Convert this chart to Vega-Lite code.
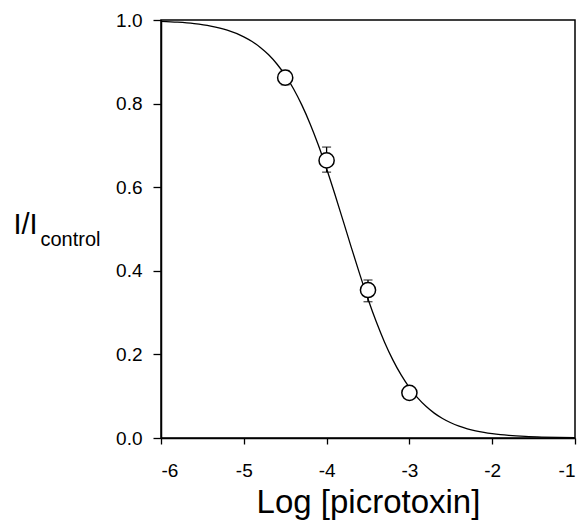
{
  "$schema": "https://vega.github.io/schema/vega-lite/v6.json",
  "width": 414,
  "height": 418,
  "autosize": {"type": "none"},
  "padding": {"left": 161, "top": 20, "right": 12, "bottom": 86},
  "background": "white",
  "config": {
    "font": "Liberation Sans",
    "view": {"stroke": "black", "strokeWidth": 1.5},
    "axis": {"grid": false, "domainColor": "black", "domainWidth": 1.5, "tickColor": "black", "tickWidth": 1.3, "labelColor": "black", "titleColor": "black", "labelFont": "Liberation Sans", "titleFont": "Liberation Sans", "titleFontWeight": "normal"}
  },
  "datasets": {
    "curve": [
      {"x": -6.0, "y": 0.99683}, {"x": -5.8, "y": 0.9947}, {"x": -5.6, "y": 0.99116}, {"x": -5.4, "y": 0.98528},
      {"x": -5.2, "y": 0.97558}, {"x": -5.0, "y": 0.95976}, {"x": -4.9, "y": 0.94854}, {"x": -4.8, "y": 0.9344},
      {"x": -4.7, "y": 0.91672}, {"x": -4.6, "y": 0.89481}, {"x": -4.5, "y": 0.8679}, {"x": -4.4, "y": 0.83545},
      {"x": -4.3, "y": 0.79689}, {"x": -4.2, "y": 0.75199}, {"x": -4.1, "y": 0.70089}, {"x": -4.0, "y": 0.64414},
      {"x": -3.9, "y": 0.58314}, {"x": -3.8, "y": 0.51935}, {"x": -3.7, "y": 0.45498}, {"x": -3.6, "y": 0.39211},
      {"x": -3.5, "y": 0.33264}, {"x": -3.4, "y": 0.27804}, {"x": -3.3, "y": 0.22934}, {"x": -3.2, "y": 0.18695},
      {"x": -3.1, "y": 0.15086}, {"x": -3.0, "y": 0.1207}, {"x": -2.9, "y": 0.0959}, {"x": -2.8, "y": 0.07575},
      {"x": -2.7, "y": 0.05956}, {"x": -2.6, "y": 0.04666}, {"x": -2.5, "y": 0.03644}, {"x": -2.4, "y": 0.02839},
      {"x": -2.3, "y": 0.02208}, {"x": -2.2, "y": 0.01714}, {"x": -2.1, "y": 0.0133}, {"x": -2.0, "y": 0.01031},
      {"x": -1.9, "y": 0.00798}, {"x": -1.8, "y": 0.00618}, {"x": -1.6, "y": 0.0037}, {"x": -1.4, "y": 0.00221},
      {"x": -1.2, "y": 0.00132}, {"x": -1.0, "y": 0.00079}
    ],
    "pts": [
      {"x": -4.5, "y": 0.862, "lo": 0.845, "hi": 0.879},
      {"x": -4.0, "y": 0.664, "lo": 0.636, "hi": 0.696},
      {"x": -3.5, "y": 0.354, "lo": 0.326, "hi": 0.378},
      {"x": -3.0, "y": 0.108, "lo": 0.095, "hi": 0.121}
    ]
  },
  "resolve": {"scale": {"y": "independent"}},
  "layer": [
    {
      "layer": [
        {
          "data": {"name": "curve"},
          "mark": {"type": "line", "color": "black", "strokeWidth": 1.3, "interpolate": "monotone"},
          "encoding": {
            "x": {"field": "x", "type": "quantitative",
              "scale": {"domain": [-6, -1], "nice": false, "zero": false},
              "axis": {"values": [-6, -5, -4, -3, -2, -1], "labelExpr": "'' + datum.value", "tickSize": 6, "labelPadding": 17, "labelFontSize": 19,
                "title": "Log [picrotoxin]", "titleFontSize": 33, "titleBaseline": "alphabetic", "titleY": 74, "titleX": 207, "titleAnchor": "middle", "titleAlign": "center"}},
            "y": {"field": "y", "type": "quantitative",
              "scale": {"domain": [0, 1], "nice": false},
              "axis": {"values": [0, 0.2, 0.4, 0.6, 0.8, 1.0], "format": ".1f", "tickSize": 8, "labelPadding": 11, "labelFontSize": 19,
                "title": "I/I", "titleAngle": 0, "titleFontSize": 29, "titleAlign": "left", "titleBaseline": "alphabetic", "titleX": -148, "titleY": 213}}
          }
        },
        {
          "data": {"name": "pts"},
          "mark": {"type": "rule", "color": "black", "strokeWidth": 1.3},
          "encoding": {
            "x": {"field": "x", "type": "quantitative"},
            "y": {"field": "lo", "type": "quantitative"},
            "y2": {"field": "hi"}
          }
        },
        {
          "data": {"name": "pts"},
          "mark": {"type": "tick", "orient": "horizontal", "color": "black", "size": 9, "thickness": 1.3},
          "encoding": {
            "x": {"field": "x", "type": "quantitative"},
            "y": {"field": "lo", "type": "quantitative"}
          }
        },
        {
          "data": {"name": "pts"},
          "mark": {"type": "tick", "orient": "horizontal", "color": "black", "size": 9, "thickness": 1.3},
          "encoding": {
            "x": {"field": "x", "type": "quantitative"},
            "y": {"field": "hi", "type": "quantitative"}
          }
        },
        {
          "data": {"name": "pts"},
          "mark": {"type": "point", "shape": "circle", "filled": true, "fill": "white", "stroke": "black", "strokeWidth": 1.5, "opacity": 1, "size": 230},
          "encoding": {
            "x": {"field": "x", "type": "quantitative"},
            "y": {"field": "y", "type": "quantitative"}
          }
        }
      ]
    },
    {
      "data": {"name": "pts"},
      "mark": {"type": "point", "opacity": 0},
      "encoding": {
        "y": {"field": "y", "type": "quantitative",
          "scale": {"domain": [0, 1], "nice": false},
          "axis": {"orient": "left", "labels": false, "ticks": false, "domain": false, "title": "control", "titleAngle": 0, "titleFontSize": 20, "titleAlign": "left", "titleBaseline": "alphabetic", "titleX": -121, "titleY": 225}}
      }
    }
  ]
}
